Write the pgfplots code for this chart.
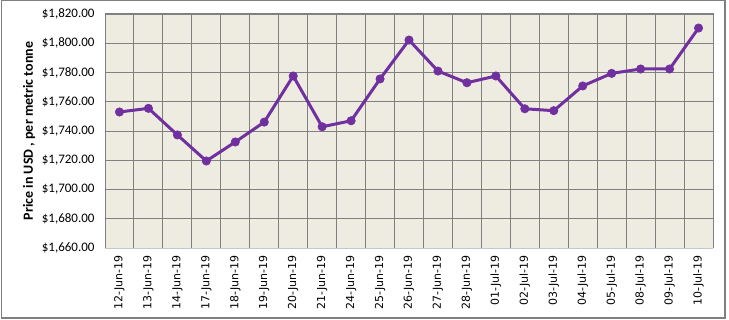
\documentclass[border=0pt]{standalone}
\usepackage{pgfplots}
\pgfplotsset{compat=1.18}
\usepackage{fontspec}
\setmainfont{Carlito}
\newfontfamily\xfont{DejaVu Sans}
\definecolor{bgcol}{HTML}{EEECE1}
\definecolor{linecol}{HTML}{7030A0}
\definecolor{gridcol}{HTML}{808080}
\definecolor{botcol}{HTML}{C0C8D4}
\begin{document}
\begin{tikzpicture}[x=1bp,y=1bp]
\useasboundingbox (0,0) rectangle (729,319);
\draw[gridcol, line width=1.2bp] (1.5,1) rectangle (725,318.4);
\begin{axis}[
  at={(105bp,71bp)}, anchor=south west,
  width=608bp, height=234bp, scale only axis,
  xmin=-0.5, xmax=20.5, ymin=1660, ymax=1820,
  ytick={1660,1680,1700,1720,1740,1760,1780,1800,1820},
  xtick={0,...,20},
  xticklabels={12-Jun-19,13-Jun-19,14-Jun-19,17-Jun-19,18-Jun-19,19-Jun-19,20-Jun-19,21-Jun-19,24-Jun-19,25-Jun-19,26-Jun-19,27-Jun-19,28-Jun-19,01-Jul-19,02-Jul-19,03-Jul-19,04-Jul-19,05-Jul-19,08-Jul-19,09-Jul-19,10-Jul-19},
  minor xtick={0.5,1.5,...,19.5},
  xminorgrids, ymajorgrids,
  major tick length=0, minor tick length=0,
  grid style={gridcol, line width=1bp},
  minor grid style={gridcol, line width=1bp},
  axis background/.style={fill=bgcol},
  axis line style={gridcol, line width=1bp},
  axis x line*=bottom,
  x axis line style={botcol, line width=1bp, -},
  y axis line style={-},
  clip=false,
  /pgf/number format/assume math mode=true,
  yticklabel={\$\pgfmathprintnumber[fixed,fixed zerofill,precision=2,1000 sep={,}]{\tick}},
  y tick label style={font=\fontsize{13bp}{15bp}\selectfont, xshift=-7bp},
  x tick label style={rotate=90, anchor=east, font=\xfont\fontsize{11bp}{12bp}\selectfont, xshift=-4bp},
  ylabel={Price in USD , per metric tonne},
  ylabel style={font=\bfseries\fontsize{14bp}{16bp}\selectfont, yshift=0bp},
]
\addplot[linecol, line width=3bp, mark=*, mark size=4.2bp, mark options={solid, fill=linecol, draw=linecol, line width=0.6bp}] coordinates {
(0,1753.0) (1,1755.5) (2,1737.3) (3,1719.5) (4,1732.5) (5,1746.1) (6,1777.6) (7,1742.9) (8,1747.0) (9,1775.6) (10,1802.2) (11,1781.0) (12,1773.0) (13,1777.6) (14,1755.2) (15,1753.9) (16,1770.8) (17,1779.4) (18,1782.4) (19,1782.4) (20,1810.4)
};
\end{axis}
\draw[gridcol, line width=1bp] (105,305) -- (713,305) -- (713,71);
\draw[gridcol, line width=1bp] (105,305) -- (105,71);
\end{tikzpicture}
\end{document}
